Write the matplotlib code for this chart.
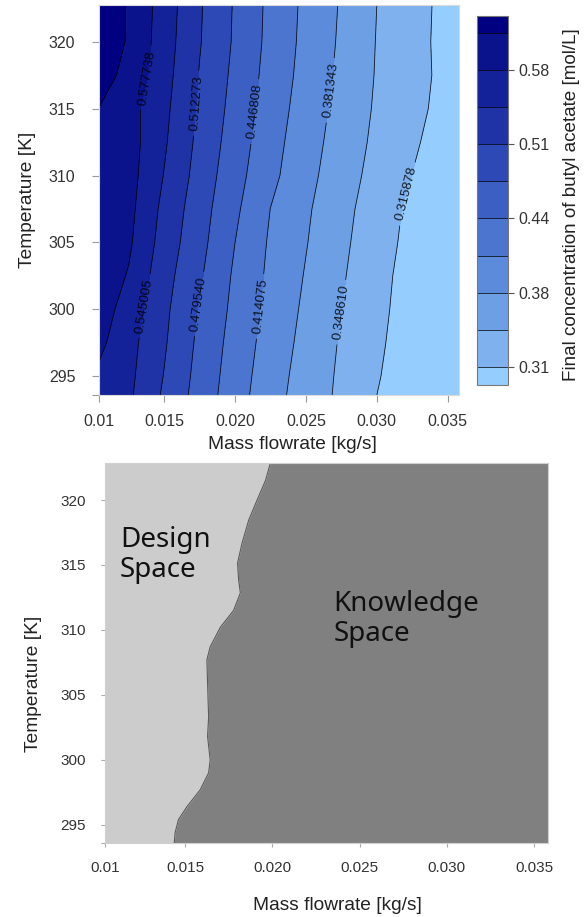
import numpy as np
import matplotlib
matplotlib.use("Agg")
import matplotlib.pyplot as plt

plt.rcParams['font.family'] = ['Liberation Sans', 'DejaVu Sans']

# top panel: final butyl acetate concentration [mol/L] on a flowrate x temperature grid
flow = [0.0104, 0.0125, 0.015, 0.0175, 0.020, 0.0225, 0.025, 0.0275, 0.030, 0.0325, 0.0358]
temp = [293.6, 295, 297.5, 300, 302.5, 305, 307.5, 310, 312.5, 315, 317.5, 320, 322.7]
conc = [
    [0.570, 0.5505, 0.5074, 0.4663, 0.4283, 0.3936, 0.3666, 0.3423, 0.3159, 0.3000, 0.3000],
    [0.572, 0.5526, 0.5110, 0.4685, 0.4304, 0.3959, 0.3681, 0.3433, 0.3180, 0.3000, 0.3000],
    [0.585, 0.5561, 0.5157, 0.4725, 0.4341, 0.4002, 0.3717, 0.3455, 0.3213, 0.3000, 0.3000],
    [0.595, 0.5627, 0.5193, 0.4768, 0.4384, 0.4038, 0.3754, 0.3490, 0.3247, 0.3005, 0.3000],
    [0.600, 0.5750, 0.5243, 0.4836, 0.4417, 0.4073, 0.3791, 0.3520, 0.3270, 0.3023, 0.3000],
    [0.609, 0.5830, 0.5310, 0.4895, 0.4468, 0.4099, 0.3829, 0.3552, 0.3302, 0.3060, 0.3000],
    [0.603, 0.5870, 0.5362, 0.4937, 0.4527, 0.4137, 0.3860, 0.3584, 0.3329, 0.3087, 0.3000],
    [0.605, 0.5900, 0.5437, 0.4993, 0.4585, 0.4223, 0.3914, 0.3630, 0.3379, 0.3156, 0.3000],
    [0.606, 0.5920, 0.5489, 0.5038, 0.4637, 0.4265, 0.3953, 0.3673, 0.3417, 0.3193, 0.3000],
    [0.610, 0.5900, 0.5526, 0.5074, 0.4682, 0.4309, 0.3993, 0.3708, 0.3446, 0.3242, 0.3000],
    [0.622, 0.6023, 0.5568, 0.5106, 0.4719, 0.4348, 0.4029, 0.3744, 0.3464, 0.3267, 0.3009],
    [0.625, 0.6084, 0.5600, 0.5142, 0.4752, 0.4377, 0.4053, 0.3767, 0.3474, 0.3263, 0.3000],
    [0.625, 0.6086, 0.5627, 0.5155, 0.4763, 0.4389, 0.4069, 0.3784, 0.3486, 0.3275, 0.3000],
]
levels = [0.300, 0.315878, 0.348610, 0.381343, 0.414075, 0.446808, 0.479540,
          0.512273, 0.545005, 0.577738, 0.610470, 0.6254]
band_colors = ['#96cdff', '#7fb1ee', '#6c9fe4', '#5b8bda', '#4b75cf', '#3c5fc4',
               '#2d49b6', '#1f33a6', '#142299', '#0b138c', '#000080']
# where the inline labels sit
label_pos = [(0.0138, 317.3), (0.0173, 315.4), (0.0213, 314.8), (0.0265, 316.4),
             (0.0322, 308.6), (0.0138, 300.2), (0.0174, 300.4), (0.0219, 300.2),
             (0.0274, 299.8)]
cbar_ticks = [0.577738, 0.512273, 0.446808, 0.381343, 0.315878]
cbar_ticklabels = ['0.58', '0.51', '0.44', '0.38', '0.31']

# bottom panel: design space boundary
bnd_temp = [293.6, 294.4, 295.4, 296.4, 297.7, 299.0, 300.0, 301.8, 303.3, 305.9, 307.7,
            308.7, 310.2, 311.5, 312.85, 313.85, 315.15, 316.7, 318.46, 320.0, 321.5, 322.85]
bnd_flow = [0.01437, 0.01442, 0.01461, 0.0151, 0.01586, 0.01634, 0.01643, 0.01628, 0.01634,
            0.01628, 0.01624, 0.01643, 0.01701, 0.01777, 0.01816, 0.01806, 0.0180, 0.01826,
            0.01864, 0.01912, 0.0196, 0.01988]

xticks = [0.0104, 0.015, 0.020, 0.025, 0.030, 0.035]
xticklabels = ['0.01', '0.015', '0.020', '0.025', '0.030', '0.035']
yticks = [293.6, 295, 300, 305, 310, 315, 320]
yticklabels = ['', '295', '300', '305', '310', '315', '320']
xlim = (0.0104, 0.0358)
ylim = (293.6, 322.75)

fig = plt.figure(figsize=(5.88, 9.17), dpi=100)
ax1 = fig.add_axes([0.1684, 0.5693, 0.6122, 0.4253])
cax = fig.add_axes([0.8112, 0.5802, 0.0527, 0.4024])
ax2 = fig.add_axes([0.1786, 0.0807, 0.7534, 0.4144])

X, Y = np.meshgrid(flow, temp)
Z = np.array(conc)
cf = ax1.contourf(X, Y, Z, levels=levels, colors=band_colors)
cl = ax1.contour(X, Y, Z, levels=levels[1:-1], colors='k', linewidths=0.6, alpha=0.85)
ax1.clabel(cl, levels=levels[1:-2], fmt='%1.6f', fontsize=9.5, inline=True,
           manual=label_pos)
ax1.set_xlim(xlim)
ax1.set_ylim(ylim)
ax1.set_xticks(xticks, xticklabels)
ax1.set_yticks(yticks, yticklabels)
ax1.tick_params(axis='both', direction='out', length=5, color='#999999',
                labelcolor='#333333', labelsize=11.5)
ax1.tick_params(axis='y', pad=12)
ax1.tick_params(axis='x', pad=9)
for s in ax1.spines.values():
    s.set_color('#d9d9d9')
ax1.set_xlabel('Mass flowrate [kg/s]', fontsize=13.8, color='#222222')
ax1.set_ylabel('Temperature [K]', fontsize=13.8, color='#222222')
ax1.xaxis.set_label_coords(0.5375, -0.105)
ax1.yaxis.set_label_coords(-0.176, 0.5)

cb = fig.colorbar(cf, cax=cax, spacing='proportional', ticks=cbar_ticks)
cb.set_ticklabels(cbar_ticklabels)
cb.add_lines(cl)
cb.outline.set_edgecolor('#777777')
cb.ax.tick_params(length=4, color='#555555', labelcolor='#333333', labelsize=11.5)
cb.set_label('Final concentration of butyl acetate [mol/L]', fontsize=13.6, color='#222222')
cb.ax.yaxis.set_label_coords(2.76, 0.49)

ax2.fill_betweenx(bnd_temp, xlim[0], bnd_flow, color='#cccccc', lw=0)
ax2.fill_betweenx(bnd_temp, bnd_flow, xlim[1], color='#808080', lw=0)
ax2.plot(bnd_flow, bnd_temp, color='#5a5a5a', lw=0.8)
ax2.set_xlim(xlim)
ax2.set_ylim(293.6, 322.85)
ax2.set_xticks(xticks, xticklabels)
ax2.set_yticks(yticks, yticklabels)
ax2.tick_params(axis='both', direction='out', length=3, color='#aaaaaa',
                labelcolor='#333333', labelsize=11)
ax2.tick_params(axis='y', pad=11)
ax2.tick_params(axis='x', pad=10)
for s in ax2.spines.values():
    s.set_color('#d0d0d0')
ax2.set_xlabel('Mass flowrate [kg/s]', fontsize=13.8, color='#222222')
ax2.set_ylabel('Temperature [K]', fontsize=13.8, color='#222222')
ax2.xaxis.set_label_coords(0.524, -0.142)
ax2.yaxis.set_label_coords(-0.142, 0.42)
ax2.text(0.01126, 318.0, 'Design\nSpace', fontsize=20, family=['Noto Sans', 'DejaVu Sans'],
         va='top', ha='left', linespacing=1.1, color='#111111')
ax2.text(0.0235, 313.1, 'Knowledge\nSpace', fontsize=20, family=['Noto Sans', 'DejaVu Sans'],
         va='top', ha='left', linespacing=1.1, color='#111111')

fig.savefig('out.png', dpi=100)
